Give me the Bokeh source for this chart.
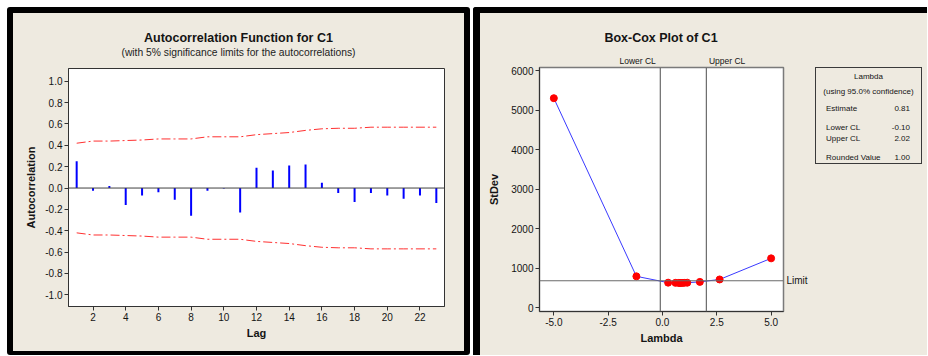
from bokeh.plotting import figure
from bokeh.models import Range1d, FixedTicker, Span, Div, NumeralTickFormatter, LinearAxis
from bokeh.layouts import row, column
from bokeh.embed import file_html
from bokeh.resources import INLINE

# ---------------- data ----------------
lags = list(range(1, 24))
acf = [0.25, -0.025, 0.02, -0.16, -0.07, -0.04, -0.11, -0.26, -0.025, -0.005,
       -0.23, 0.19, 0.165, 0.21, 0.22, 0.05, -0.047, -0.13, -0.047, -0.07,
       -0.10, -0.07, -0.14]
upper_limit = [0.42, 0.44, 0.44, 0.445, 0.45, 0.46, 0.46, 0.46, 0.48, 0.48,
               0.48, 0.50, 0.51, 0.52, 0.54, 0.555, 0.56, 0.56, 0.57, 0.57,
               0.57, 0.57, 0.57]
lower_limit = [-0.42, -0.44, -0.44, -0.445, -0.45, -0.46, -0.46, -0.46, -0.48, -0.48,
               -0.48, -0.50, -0.51, -0.52, -0.54, -0.555, -0.56, -0.56, -0.57, -0.57,
               -0.57, -0.57, -0.57]
acf_xticks = [2, 4, 6, 8, 10, 12, 14, 16, 18, 20, 22]
acf_yticks = [-1.0, -0.8, -0.6, -0.4, -0.2, 0.0, 0.2, 0.4, 0.6, 0.8, 1.0]

lambdas = [-5.0, -1.2, 0.26, 0.6, 0.75, 0.81, 0.9, 1.0, 1.14, 1.72, 2.63, 5.0]
stdevs = [5300, 795, 635, 630, 628, 627, 628, 630, 634, 655, 716, 1250]
bc_xticks = [-5.0, -2.5, 0.0, 2.5, 5.0]
bc_yticks = [0, 1000, 2000, 3000, 4000, 5000, 6000]
limit_value = 684
lambda_estimate = 0.81
lower_cl = -0.10
upper_cl = 2.02
rounded_value = 1.00

BG = "#EEEAE0"
FONT = "Liberation Sans"
TXT = "#141414"


def style_axis(ax, size="10px"):
    ax.major_label_text_font = FONT
    ax.major_label_text_font_size = size
    ax.major_label_text_color = TXT
    ax.axis_label_text_font = FONT
    ax.axis_label_text_font_size = "11px"
    ax.axis_label_text_font_style = "bold"
    ax.axis_label_text_color = TXT
    ax.axis_line_color = "#333333"
    ax.major_tick_line_color = "#333333"
    ax.major_tick_out = 4
    ax.major_tick_in = 0
    ax.minor_tick_line_color = None
    ax.major_label_standoff = 2


# ---------------- ACF panel ----------------
P1_W, HEAD_H = 451, 50
p1 = figure(width=P1_W, height=288, x_range=Range1d(0.5, 23.5), y_range=Range1d(-1.11, 1.12),
            output_backend="svg", toolbar_location=None, title=None,
            min_border_left=55, min_border_right=20, min_border_top=5, min_border_bottom=45)
p1.background_fill_color = "white"
p1.border_fill_color = BG
p1.outline_line_color = "#333333"
p1.outline_line_width = 1
p1.grid.visible = False
p1.xaxis.ticker = FixedTicker(ticks=acf_xticks)
p1.yaxis.ticker = FixedTicker(ticks=acf_yticks)
p1.yaxis.formatter = NumeralTickFormatter(format="0.0")
p1.xaxis.axis_label = "Lag"
p1.yaxis.axis_label = "Autocorrelation"
style_axis(p1.xaxis[0])
style_axis(p1.yaxis[0])
p1.xaxis.axis_label_standoff = 3
p1.yaxis.axis_label_standoff = 5

p1.add_layout(Span(location=0, dimension="width", line_color="#404040", line_width=1))
p1.segment(x0=lags, y0=[0] * len(lags), x1=lags, y1=acf, line_color="#0000FF", line_width=2)
p1.line(lags, upper_limit, line_color="#FF3030", line_width=1, line_dash="9 3 2 3")
p1.line(lags, lower_limit, line_color="#FF3030", line_width=1, line_dash="9 3 2 3")

head1 = Div(width=P1_W, height=HEAD_H, margin=(0, 0, 0, 0), text=(
    f'<div style="position:relative;width:{P1_W}px;height:{HEAD_H}px;font-family:\'{FONT}\';color:{TXT};">'
    f'<div style="position:absolute;left:0;right:0;top:18px;text-align:center;font-weight:bold;'
    f'font-size:12.5px;line-height:14px;">Autocorrelation Function for C1</div>'
    f'<div style="position:absolute;left:0;right:0;top:34px;text-align:center;color:#222;'
    f'font-size:10.3px;line-height:12px;">(with 5% significance limits for the autocorrelations)</div>'
    f'</div>'))

# ---------------- Box-Cox panel ----------------
P2_W, MB_L, MB_R, HEAD2_H = 335, 59, 32, 53
p2 = figure(width=P2_W, height=289, x_range=Range1d(-5.66, 5.57), y_range=Range1d(-94, 6076),
            output_backend="svg", toolbar_location=None, title=None,
            min_border_left=MB_L, min_border_right=MB_R, min_border_top=1, min_border_bottom=44)
p2.background_fill_color = "white"
p2.border_fill_color = BG
p2.outline_line_color = "#7a7a7a"
p2.outline_line_width = 1.5
p2.grid.visible = False
p2.xaxis.ticker = FixedTicker(ticks=bc_xticks)
p2.yaxis.ticker = FixedTicker(ticks=bc_yticks)
p2.xaxis.formatter = NumeralTickFormatter(format="0.0")
p2.xaxis.axis_label = "Lambda"
p2.yaxis.axis_label = "StDev"
style_axis(p2.xaxis[0])
style_axis(p2.yaxis[0])
p2.xaxis.axis_label_standoff = 3
p2.yaxis.axis_label_standoff = 8

# "Limit" label as a right-hand axis with one labelled tick
limit_axis = LinearAxis(ticker=FixedTicker(ticks=[limit_value]),
                        major_label_overrides={limit_value: "Limit"},
                        axis_line_color=None, major_tick_line_color=None, minor_tick_line_color=None,
                        major_tick_out=0, major_tick_in=0,
                        major_label_standoff=3, major_label_text_font=FONT,
                        major_label_text_font_size="10px", major_label_text_color=TXT)
p2.add_layout(limit_axis, "right")

for loc in (lower_cl, upper_cl):
    p2.add_layout(Span(location=loc, dimension="height", line_color="#6a6a6a", line_width=1.2))
p2.add_layout(Span(location=limit_value, dimension="width", line_color="#6a6a6a", line_width=1.2))

p2.line(lambdas, stdevs, line_color="#3a3aff", line_width=1)
p2.scatter(lambdas, stdevs, size=7, fill_color="#FF0000", line_color="#FF0000")

# pixel positions of the CL lines inside the header, via the same linear scale as the frame
xr = p2.x_range
frame_w = P2_W - MB_L - MB_R


def to_px(v):
    return MB_L + (v - xr.start) / (xr.end - xr.start) * frame_w


lo_px, up_px = to_px(lower_cl), to_px(upper_cl)
mid_px = MB_L + frame_w / 2
head2 = Div(width=P2_W, height=HEAD2_H, margin=(0, 0, 0, 0), text=(
    f'<div style="position:relative;width:{P2_W}px;height:{HEAD2_H}px;font-family:\'{FONT}\';color:{TXT};">'
    f'<div style="position:absolute;left:{mid_px - 100:.1f}px;width:200px;top:18px;text-align:center;'
    f'font-weight:bold;font-size:12.5px;line-height:14px;">Box-Cox Plot of C1</div>'
    f'<div style="position:absolute;right:{P2_W - lo_px + 4:.1f}px;top:43px;text-align:right;'
    f'font-size:8.5px;line-height:10px;white-space:nowrap;">Lower CL</div>'
    f'<div style="position:absolute;left:{up_px + 3:.1f}px;top:43px;text-align:left;'
    f'font-size:8.5px;line-height:10px;white-space:nowrap;">Upper CL</div>'
    f'</div>'))

rows = [("Estimate", lambda_estimate, 35.5), ("Lower CL", lower_cl, 54.5),
        ("Upper CL", upper_cl, 66), ("Rounded Value", rounded_value, 84.5)]
inner = ""
for name, val, top in rows:
    inner += (f'<div style="position:absolute;left:10px;top:{top}px;">{name}</div>'
              f'<div style="position:absolute;right:11px;top:{top}px;">{val:.2f}</div>')
legend_html = (
    f'<div style="position:relative;width:112px;height:342px;">'
    f'<div style="position:absolute;left:0px;top:54px;width:107px;height:97px;box-sizing:border-box;'
    f'border:1.5px solid #3a3a3a;font-family:\'{FONT}\';font-size:8px;line-height:9px;color:{TXT};">'
    f'<div style="position:absolute;left:0;right:0;top:3.5px;text-align:center;">Lambda</div>'
    f'<div style="position:absolute;left:0;right:0;top:18.5px;text-align:center;">(using 95.0% confidence)</div>'
    f'{inner}</div></div>'
)
legend_div = Div(text=legend_html, width=112, height=342, margin=(0, 0, 0, 0))

left_panel = column(head1, p1, styles={"border": "6px solid black", "border-bottom-width": "4px",
                                       "border-radius": "3px", "background-color": BG})
right_panel = row(column(head2, p2), legend_div,
                  styles={"border-left": "7px solid black", "border-top": "6px solid black",
                          "border-top-left-radius": "3px", "background-color": BG,
                          "margin-left": "3px"})
layout = row(left_panel, right_panel, margin=(7, 0, 0, 7))

open("out.html", "w").write(file_html(layout, INLINE))
